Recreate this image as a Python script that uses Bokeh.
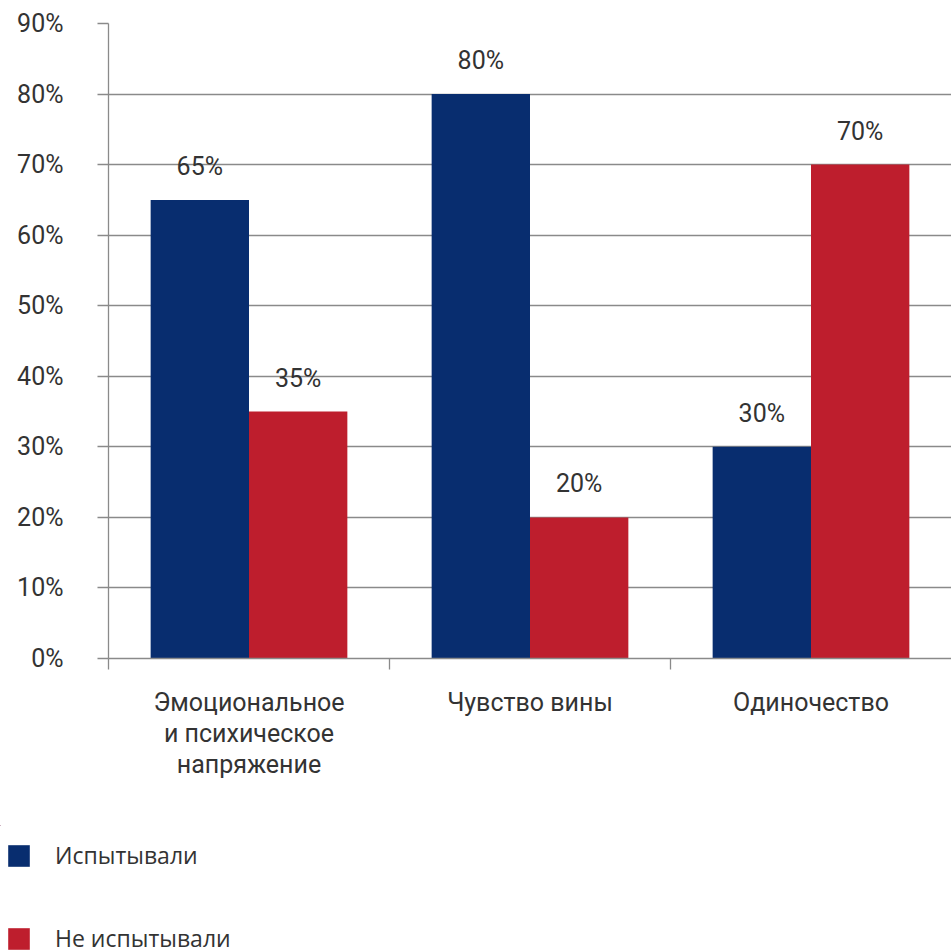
from bokeh.plotting import figure
from bokeh.layouts import column, row
from bokeh.models import (FixedTicker, PrintfTickFormatter, Legend, LegendItem,
                          ColumnDataSource, LinearAxis, Range1d, LabelSet, Grid)
from bokeh.core.properties import value
from bokeh.embed import file_html
from bokeh.resources import INLINE

categories = ["Эмоциональное\nи психическое\nнапряжение", "Чувство вины", "Одиночество"]
series_names = ["Испытывали", "Не испытывали"]
experienced = [65, 80, 30]
not_experienced = [35, 20, 70]
y_ticks = [0, 10, 20, 30, 40, 50, 60, 70, 80, 90]

BLUE = "#082D6F"
RED = "#BE1E2D"
GRAY = "#8a8a8a"
TEXT = "#333333"
FONT = "Roboto"
FS = "25px"

n = len(categories)
centers = [i + 0.5 for i in range(n)]
bar_w = 0.35

src_a = ColumnDataSource(dict(x=[c - bar_w / 2 for c in centers], top=experienced,
                              label=[f"{v}%" for v in experienced]))
src_b = ColumnDataSource(dict(x=[c + bar_w / 2 for c in centers], top=not_experienced,
                              label=[f"{v}%" for v in not_experienced]))

p = figure(width=951, height=825, output_backend="svg", toolbar_location=None,
           x_range=Range1d(0, n), y_range=Range1d(y_ticks[0], y_ticks[-1]),
           x_axis_type=None, y_axis_type=None,
           min_border_left=108, min_border_right=0, min_border_top=23, min_border_bottom=167)
p.outline_line_color = None

yticker = FixedTicker(ticks=y_ticks)
yaxis = LinearAxis(ticker=yticker, formatter=PrintfTickFormatter(format="%d%%"),
                   major_tick_out=11, major_tick_in=0, minor_tick_out=0, minor_tick_in=0,
                   axis_line_color=GRAY, axis_line_width=1.3,
                   major_tick_line_color=GRAY, major_tick_line_width=1.3,
                   major_label_standoff=34, major_label_text_font=FONT,
                   major_label_text_font_size=FS, major_label_text_color=TEXT)
p.add_layout(yaxis, "left")
p.add_layout(Grid(dimension=1, ticker=yticker, grid_line_color=GRAY, grid_line_width=1.3))

xticker = FixedTicker(ticks=centers, minor_ticks=list(range(n)))
xaxis = LinearAxis(ticker=xticker,
                   major_label_overrides={c: lab for c, lab in zip(centers, categories)},
                   major_tick_out=0, major_tick_in=0, minor_tick_out=11, minor_tick_in=0,
                   minor_tick_line_color=GRAY, minor_tick_line_width=1.3,
                   axis_line_color=GRAY, axis_line_width=1.3,
                   major_label_standoff=18, major_label_text_font=FONT,
                   major_label_text_font_size=FS, major_label_text_color=TEXT,
                   major_label_text_line_height=1.08)
p.add_layout(xaxis, "below")

r1 = p.vbar(x="x", top="top", width=bar_w, source=src_a, fill_color=BLUE, line_color=None)
r2 = p.vbar(x="x", top="top", width=bar_w, source=src_b, fill_color=RED, line_color=None)

for src in (src_a, src_b):
    p.add_layout(LabelSet(x="x", y="top", text="label", source=src, y_offset=25,
                          text_align="center", text_baseline="alphabetic",
                          text_font=value(FONT), text_font_size=FS, text_color=TEXT))

# legend strip below the chart; its series renderers lie outside its visible ranges
lg = figure(width=951, height=125, output_backend="svg", toolbar_location=None,
            x_range=Range1d(n + 5, n + 6), y_range=Range1d(-2, -1),
            x_axis_type=None, y_axis_type=None,
            min_border_left=0, min_border_right=0, min_border_top=0, min_border_bottom=0)
lg.outline_line_color = None
d1 = lg.vbar(x="x", top="top", width=bar_w, source=src_a, fill_color=BLUE, line_color=None)
d2 = lg.vbar(x="x", top="top", width=bar_w, source=src_b, fill_color=RED, line_color=None)

legend = Legend(items=[LegendItem(label=series_names[0], renderers=[d1]),
                       LegendItem(label=series_names[1], renderers=[d2])],
                location=(5, -4), orientation="vertical",
                glyph_width=27, glyph_height=27, label_standoff=23, label_height=27,
                spacing=51, padding=0, margin=0, border_line_color=None,
                background_fill_alpha=0, label_text_font="Open Sans",
                label_text_font_size="23px", label_text_color=TEXT)
lg.add_layout(legend, "center")

layout = column(p, row(lg), spacing=0)
open("out.html", "w").write(file_html(layout, INLINE))
